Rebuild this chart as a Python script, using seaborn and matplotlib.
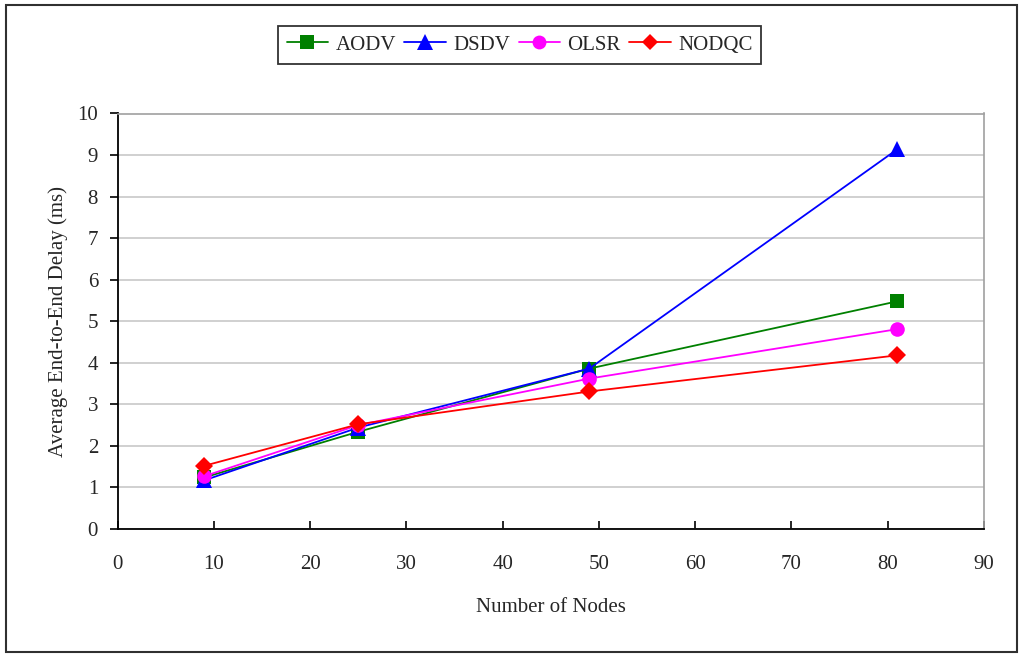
import matplotlib
matplotlib.use("Agg")
import matplotlib.pyplot as plt
import seaborn as sns
import pandas as pd
from matplotlib.patches import Rectangle
from matplotlib.lines import Line2D

nodes = [9, 25, 49, 81]
aodv = [1.24, 2.34, 3.86, 5.48]
dsdv = [1.17, 2.44, 3.86, 9.14]
olsr = [1.27, 2.50, 3.62, 4.81]
nodqc = [1.52, 2.52, 3.31, 4.18]
series_names = ["AODV", "DSDV", "OLSR", "NODQC"]
x_ticks = [0, 10, 20, 30, 40, 50, 60, 70, 80, 90]
y_ticks = [0, 1, 2, 3, 4, 5, 6, 7, 8, 9, 10]

rows = []
for name, vals in zip(series_names, [aodv, dsdv, olsr, nodqc]):
    for n, v in zip(nodes, vals):
        rows.append({"Nodes": n, "Delay": v, "Protocol": name})
df = pd.DataFrame(rows)

sns.set_theme(style="white")
plt.rcParams["font.family"] = ["Liberation Serif", "DejaVu Serif"]

palette = {"AODV": "#008000", "DSDV": "#0000ff", "OLSR": "#ff00ff", "NODQC": "#ff0000"}
markers = {"AODV": "s", "DSDV": "^", "OLSR": "o", "NODQC": "D"}
msizes = {"AODV": 10, "DSDV": 11.5, "OLSR": 10.5, "NODQC": 9}

fig = plt.figure(figsize=(10.24, 6.58), dpi=100)
ax = fig.add_axes([117.5 / 1024, 1 - 529 / 658, (984 - 117.5) / 1024, (529 - 113.5) / 658])

sns.lineplot(data=df, x="Nodes", y="Delay", hue="Protocol", style="Protocol",
             palette=palette, markers=markers, dashes=False, hue_order=series_names,
             style_order=series_names, linewidth=1.3, markeredgewidth=0,
             ax=ax, legend=False, zorder=3)
for line, name in zip(ax.lines, series_names):
    line.set_markersize(msizes[name])

ax.set_xlim(0, 90)
ax.set_ylim(0, 10)
ax.set_xticks(x_ticks)
ax.set_yticks(y_ticks)
ax.set_xticklabels([str(t) for t in x_ticks])
ax.set_yticklabels([str(t) for t in y_ticks])
ax.yaxis.grid(True, color="#c8c8c8", linewidth=1.2)
ax.xaxis.grid(False)
ax.set_axisbelow(True)

for s in ["left", "bottom"]:
    ax.spines[s].set_color("black")
    ax.spines[s].set_linewidth(1.3)
for s in ["top", "right"]:
    ax.spines[s].set_color("#a0a0a0")
    ax.spines[s].set_linewidth(1.2)

ax.tick_params(axis="x", direction="in", length=6, width=1.2, color="black",
               labelsize=15, pad=19, bottom=True)
ax.tick_params(axis="y", direction="out", length=6, width=1.2, color="black",
               labelsize=15, pad=8, left=True)

ax.set_xlabel("Number of Nodes", fontsize=15, labelpad=17)
ax.set_ylabel("Average End-to-End Delay (ms)", fontsize=15, labelpad=7)

handles = [Line2D([], [], color=palette[n], marker=markers[n], markersize=msizes[n] * 0.95,
                  markeredgewidth=0, linewidth=1.3) for n in series_names]
leg = fig.legend(handles, series_names, loc="center", bbox_to_anchor=(519.5 / 1024, 1 - 45 / 658),
                 ncol=4, frameon=True, fancybox=False, edgecolor="black", fontsize=15,
                 handlelength=2.0, handletextpad=0.35, columnspacing=0.4, borderpad=0.42,
                 borderaxespad=0)
leg.get_frame().set_linewidth(1.3)

fig.patches.append(Rectangle((6 / 1024, 1 - 652 / 658), (1017 - 6) / 1024, (652 - 5) / 658,
                             transform=fig.transFigure, fill=False, edgecolor="#303030",
                             linewidth=1.5))

fig.savefig("out.png", dpi=100, facecolor="white")
